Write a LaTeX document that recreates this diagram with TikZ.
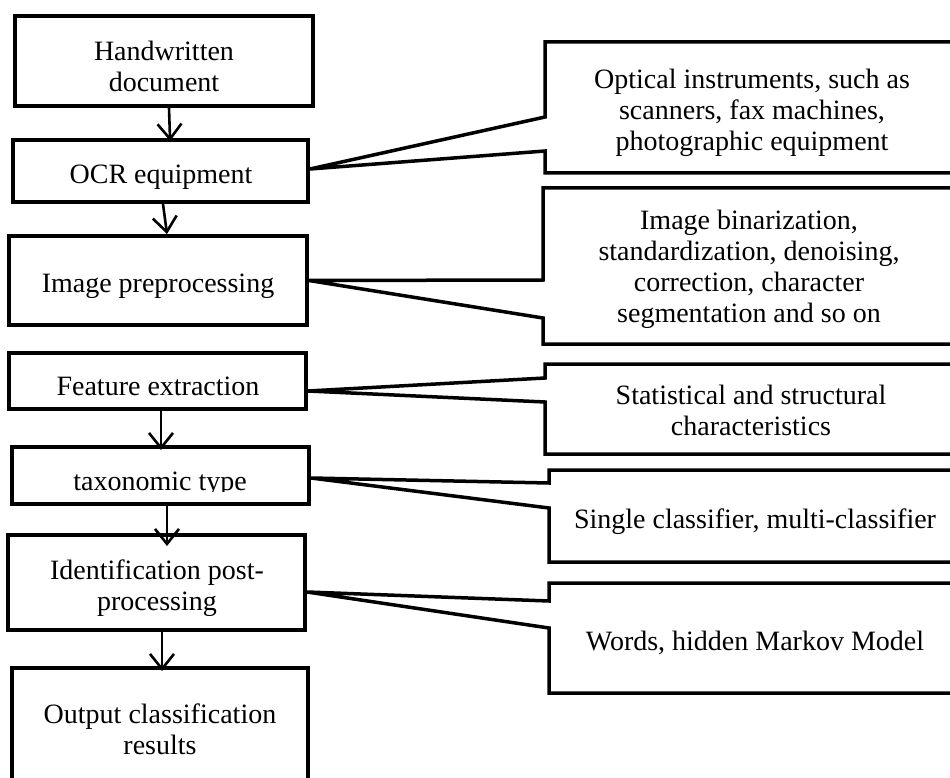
\documentclass[tikz,border=0pt]{standalone}
\usepackage{fontspec}
\setmainfont{Liberation Serif}
\usetikzlibrary{arrows.meta}
\begin{document}
\begin{tikzpicture}[x=1pt,y=-1pt,
  box/.style={draw, line width=4pt, inner sep=0pt},
  txt/.style={inner sep=0pt, align=center, font=\fontsize{28}{31}\selectfont},
  callout/.style={draw, line width=3.5pt, line join=miter},
  arr/.style={line width=2.6pt, -{Straight Barb[length=15pt,width=24pt]}}]
\useasboundingbox (0,0) rectangle (950,778);
\clip (0,0) rectangle (950,778);

% left boxes
\node[box, minimum width=298pt, minimum height=90pt] (hw) at (164,61) {};
\node[box, minimum width=295pt, minimum height=62pt] (ocr) at (160.5,171) {};
\node[box, minimum width=298pt, minimum height=89pt] (pre) at (158,280.5) {};
\node[box, minimum width=297pt, minimum height=56pt] (feat) at (157.5,381) {};
\node[box, minimum width=297pt, minimum height=57pt] (tax) at (160.5,475.5) {};
\node[box, minimum width=297pt, minimum height=95pt] (ident) at (156.5,582.5) {};
\node[box, minimum width=296pt, minimum height=132pt] (out) at (160,734) {};

% tips of the callouts
\coordinate (t1) at ([yshift=2pt]ocr.east);
\coordinate (t2) at (pre.east);
\coordinate (t3) at ([yshift=-10pt]feat.east);
\coordinate (t4) at ([yshift=-2.5pt]tax.east);
\coordinate (t5) at ([yshift=-9.5pt]ident.east);

% callouts
\draw[callout] (960,42) -- (545,42) -- (545,117) -- (t1) -- (545,151) -- (545,173) -- (960,173);
\draw[callout] (960,188) -- (543,188) -- (543,280) -- (t2) -- (543,318) -- (543,344) -- (960,344);
\draw[callout] (960,364) -- (545,364) -- (545,378) -- (t3) -- (545,402) -- (545,454) -- (960,454);
\draw[callout] (960,470) -- (549,470) -- (549,483) -- (t4) -- (549,508) -- (549,562) -- (960,562);
\draw[callout] (960,583) -- (549,583) -- (549,601) -- (t5) -- (549,628) -- (549,693) -- (960,693);

% texts in left boxes
\node[txt] (hwT) at (164,70) {\strut Handwritten\\\strut document};
\node[txt] (ocrT) at (161,177) {\strut OCR equipment};
\node[txt] (preT) at (158,286) {\strut Image preprocessing};
\node[txt] (featT) at (158,389) {\strut Feature extraction};
\begin{scope}
  \clip (12,449) rectangle (309,491);
  \node[txt] (taxT) at (160,484) {\strut taxonomic type};
\end{scope}
\node[txt] (identT) at (157,589) {\strut Identification post-\\\strut processing};
\node[txt] (outT) at (160,733) {\strut Output classification\\\strut results};

% texts in callouts
\node[txt] (optT) at (752,113) {\strut Optical instruments, such as\\\strut scanners, fax machines,\\\strut photographic equipment};
\node[txt] (binT) at (749,270) {\strut Image binarization,\\\strut standardization, denoising,\\\strut correction, character\\\strut segmentation and so on};
\node[txt] (statT) at (751,414) {\strut Statistical and structural\\\strut characteristics};
\node[txt] (singT) at (755,522) {\strut Single classifier, multi-classifier};
\node[txt] (wordT) at (755,644) {\strut Words, hidden Markov Model};

% arrows
\draw[arr, shorten >=-3pt] ([xshift=5pt]hw.south) -- ([xshift=9.5pt]ocr.north);
\draw[arr] ([xshift=2.5pt]ocr.south) -- ([xshift=9pt]pre.north);
\draw[arr, shorten >=-5pt] ([xshift=3.5pt]feat.south) -- ([xshift=0.5pt]tax.north);
\draw[arr, shorten >=-13pt] ([xshift=6.5pt]tax.south) -- ([xshift=10.5pt]ident.north);
\draw[arr, shorten >=-5pt] ([xshift=5.5pt]ident.south) -- ([xshift=2pt]out.north);
\end{tikzpicture}
\end{document}
